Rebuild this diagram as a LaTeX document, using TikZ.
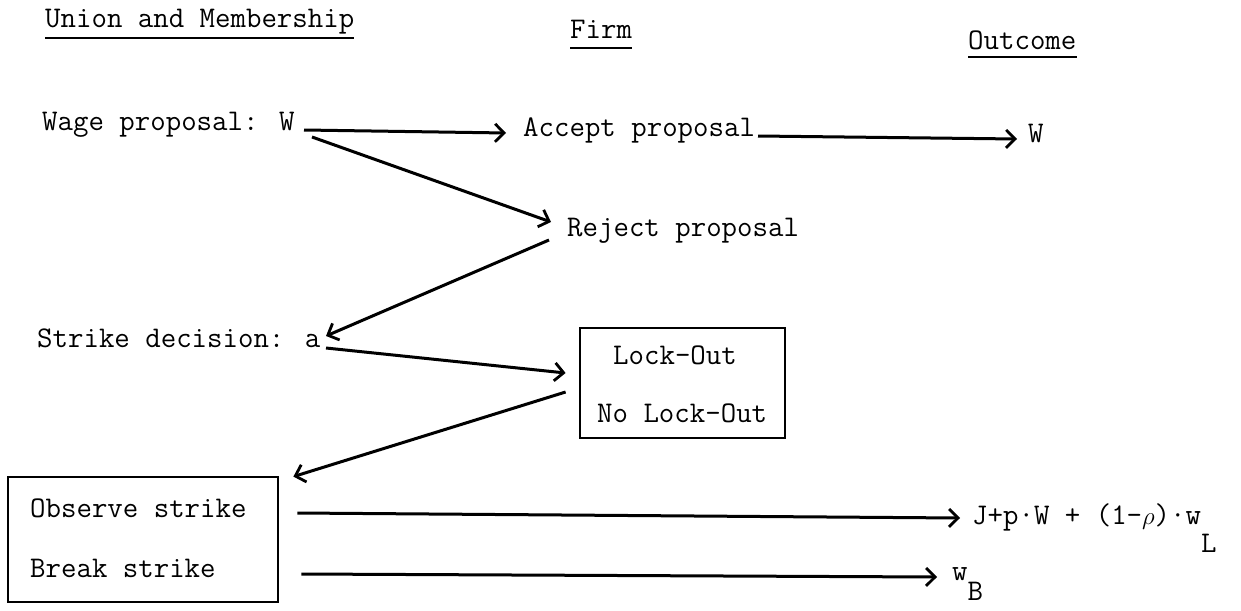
\documentclass[tikz,border=0pt]{standalone}
\usepackage{fontspec}
\usetikzlibrary{arrows.meta}
\newcommand\twfont{\fontsize{30}{34}\selectfont\ttfamily\addfontfeatures{FakeBold=2}}
\tikzset{
  txt/.style={font=\twfont, inner sep=0pt, anchor=base west},
  arr/.style={line width=3pt, -{Straight Barb[length=9pt,width=18pt,line width=2.8pt]}},
  boxed/.style={draw, line width=2.8pt, inner sep=0pt},
  uline/.style={line width=2.2pt}
}
\begin{document}
\begin{tikzpicture}[x=1pt,y=-1pt]
\useasboundingbox (0,0) rectangle (1241,610);
% headers
\node[txt] (union) at (45,28) {Union and Membership};
\node[txt] (firm) at (570,38) {Firm};
\node[txt] (outcome) at (968,50) {Outcome};
\draw[uline] ([shift={(0,10)}]union.base west) -- ([shift={(0,10)}]union.base east);
\draw[uline] ([shift={(0,10)}]firm.base west) -- ([shift={(0,10)}]firm.base east);
\draw[uline] ([shift={(0,7)}]outcome.base west) -- ([shift={(0,7)}]outcome.base east);
% texts
\node[txt] (wage) at (42,130) {Wage proposal: W};
\node[txt] (accept) at (523,136) {Accept proposal};
\node[txt] (outW) at (1028,142) {W};
\node[txt] (reject) at (567,236) {Reject proposal};
\node[txt] (strike) at (37,347) {Strike decision: a};
% firm box
\node[boxed, minimum width=205pt, minimum height=110pt] (box1) at (682.5,383) {};
\node[txt] (lock) at (613,364) {Lock-Out};
\node[txt] (nolock) at (597,422) {No Lock-Out};
% union box
\node[boxed, minimum width=270pt, minimum height=125pt] (box2) at (143,539.5) {};
\node[txt] (observe) at (30,517) {Observe strike};
\node[txt] (break) at (30,577) {Break strike};
% outcomes
\node[txt] (outJ) at (972,524) {J+p·W + (1-$\rho$)·w\raisebox{-28pt}{L}};
\node[txt] (outB) at (952,580) {w\raisebox{-20pt}{B}};
% arrows
\draw[arr] ([shift={(262,0)}]wage.base west) -- ([shift={(-17,-3)}]accept.base west);
\draw[arr] ([shift={(270,7)}]wage.base west) -- ([shift={(-16,-14)}]reject.base west);
\draw[arr] ([shift={(235,0)}]accept.base west) -- ([shift={(-11,-3)}]outW.base west);
\draw[arr] ([shift={(-18,4)}]reject.base west) -- ([shift={(289,-11)}]strike.base west);
\draw[arr] ([shift={(289,1)}]strike.base west) -- ([shift={(-13,-10)}]box1.west);
\draw[arr] ([shift={(-13,9)}]box1.west) -- ([shift={(14,1)}]box2.north east);
\draw[arr] ([shift={(18,-26.5)}]box2.east) -- ([shift={(-12,-6)}]outJ.base west);
\draw[arr] ([shift={(22,34.5)}]box2.east) -- ([shift={(-15,-3)}]outB.base west);
\end{tikzpicture}
\end{document}
